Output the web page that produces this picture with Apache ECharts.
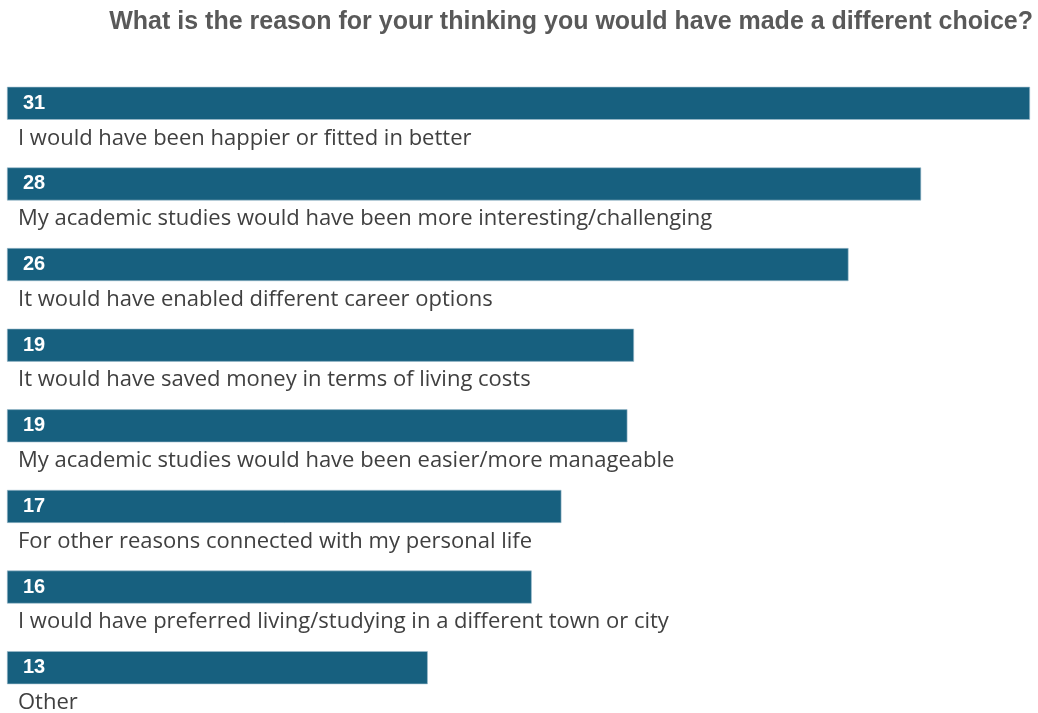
<!DOCTYPE html>
<html>
<head>
<meta charset="utf-8">
<script src="https://cdn.jsdelivr.net/npm/echarts@6/dist/echarts.min.js"></script>
<style>
  html, body { margin: 0; padding: 0; background: #ffffff; }
  #chart { width: 1038px; height: 713px; }
</style>
</head>
<body>
<div id="chart"></div>
<script>
// Survey responses: reasons for thinking a different choice would have been made
const titleText = 'What is the reason for your thinking you would have made a different choice?';
const reasons = [
  'I would have been happier or fitted in better',
  'My academic studies would have been more interesting/challenging',
  'It would have enabled different career options',
  'It would have saved money in terms of living costs',
  'My academic studies would have been easier/more manageable',
  'For other reasons connected with my personal life',
  'I would have preferred living/studying in a different town or city',
  'Other'
];
const shares = [31, 27.7, 25.5, 19.0, 18.8, 16.8, 15.9, 12.75];

const chart = echarts.init(document.getElementById('chart'), null, { renderer: 'canvas' });

chart.setOption({
  animation: false,
  backgroundColor: '#ffffff',
  title: {
    text: titleText,
    right: 0,
    top: 5,
    textStyle: {
      fontFamily: 'Liberation Sans',
      fontSize: 25,
      fontWeight: 'bold',
      color: '#595959'
    }
  },
  grid: { left: 7, right: 8, top: 63, bottom: 5, containLabel: false },
  xAxis: {
    type: 'value',
    min: 0,
    max: shares[0],
    show: false
  },
  yAxis: {
    type: 'category',
    data: reasons,
    inverse: true,
    show: false
  },
  series: [{
    type: 'bar',
    data: shares,
    barWidth: 33,
    itemStyle: {
      color: '#17607f',
      borderColor: '#9dbccd',
      borderWidth: 0.6
    },
    label: {
      show: true,
      position: [11, 0],
      align: 'left',
      verticalAlign: 'top',
      formatter: p => '{v|' + Math.round(p.value) + '}\n{n|' + p.name + '}',
      rich: {
        v: {
          fontFamily: 'Liberation Sans',
          fontSize: 20,
          fontWeight: 'bold',
          color: '#ffffff',
          lineHeight: 33,
          padding: [0, 0, 0, 5]
        },
        n: {
          fontFamily: 'Open Sans',
          fontSize: 22,
          color: '#404040',
          lineHeight: 37
        }
      }
    }
  }]
});
</script>
</body>
</html>
